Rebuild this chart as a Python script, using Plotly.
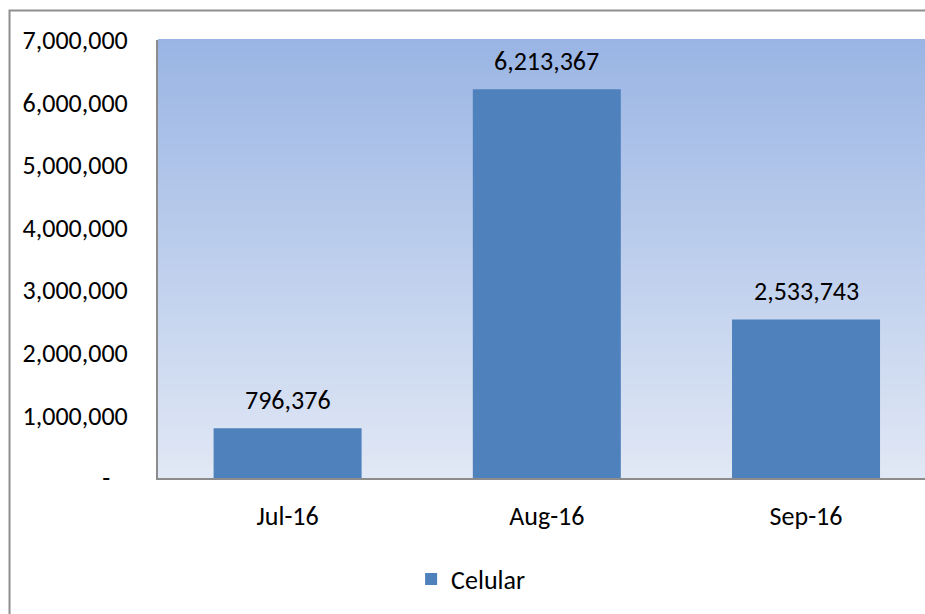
import plotly.graph_objects as go

categories = ["Jul-16", "Aug-16", "Sep-16"]
values = [796376, 6213367, 2533743]
series_name = "Celular"
y_tickvals = [0, 1000000, 2000000, 3000000, 4000000, 5000000, 6000000, 7000000]
y_ticktext = ["-\u00a0\u00a0\u00a0"] + [f"{v:,}" for v in y_tickvals[1:]]

FONT = "Carlito, Calibri, Lato, sans-serif"
FS = 26
BAR = "#4F81BD"
AXIS = "#8C8C8C"

fig = go.Figure()
fig.add_trace(go.Bar(
    x=categories, y=values, name=series_name, marker=dict(color=BAR, line=dict(width=0)),
    width=0.571, showlegend=True,
))

# gradient background bands
top = (154, 181, 228)
bot = (225, 232, 245)
N = 80
shapes = []
for i in range(N):
    t = (i + 0.5) / N
    c = tuple(round(bot[k] + (top[k] - bot[k]) * t) for k in range(3))
    shapes.append(dict(type="rect", xref="paper", yref="paper", x0=0, x1=1,
                       y0=i / N, y1=(i + 1) / N + 0.002, layer="below",
                       fillcolor=f"rgb{c}", line=dict(width=0)))
# outer chart border
shapes.append(dict(type="rect", xref="paper", yref="paper", x0=-0.1936, x1=1.05,
                   y0=-0.4, y1=1.0673, layer="above", fillcolor="rgba(0,0,0,0)",
                   line=dict(color="#8E8E8E", width=2)))

annotations = [dict(x=c, y=v, text=f"{v:,}", showarrow=False, yanchor="bottom",
                    yshift=10, font=dict(family=FONT, size=FS, color="#000000"))
               for c, v in zip(categories, values)]

fig.update_layout(
    width=925, height=614,
    margin=dict(l=158, r=0, t=40, b=136),
    paper_bgcolor="white", plot_bgcolor="white",
    font=dict(family=FONT, size=FS, color="#000000"),
    shapes=shapes, annotations=annotations,
    legend=dict(orientation="h", x=0.33, xanchor="left", y=-0.2306, yanchor="middle",
                font=dict(family=FONT, size=FS), bgcolor="rgba(0,0,0,0)"),
    xaxis=dict(range=[-0.5, 2.459], showgrid=False, showline=True, linecolor=AXIS,
               linewidth=2, ticks="", ticklabelstandoff=14, zeroline=False),
    yaxis=dict(range=[0, 7000000], tickvals=y_tickvals, ticktext=y_ticktext,
               showgrid=False, showline=True, linecolor=AXIS, linewidth=2,
               ticks="", ticklabelstandoff=23, zeroline=False),
)

fig.write_html("out.html", config={"displayModeBar": False},
               post_script="document.body.style.margin='0';document.body.style.overflow='hidden';")
